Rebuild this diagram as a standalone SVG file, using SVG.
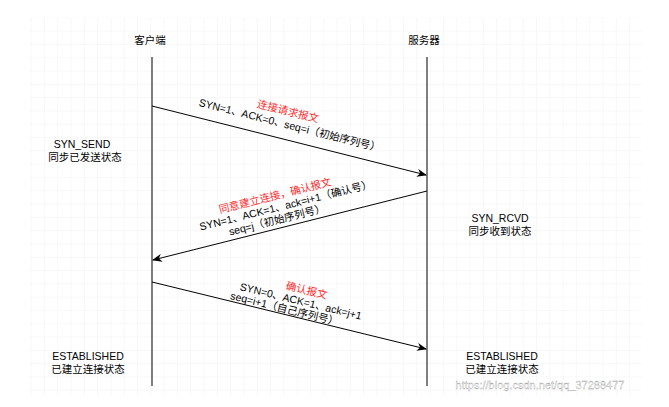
<svg xmlns="http://www.w3.org/2000/svg" width="669" height="407" viewBox="0 0 669 407">
<defs>
<pattern id="g" width="13.3" height="13.3" patternUnits="userSpaceOnUse" x="5" y="5"><path d="M13.3 0V13.3H0" fill="none" stroke="#eeeeee" stroke-width="0.8"/></pattern>
<marker id="a" markerWidth="10" markerHeight="8" refX="9" refY="4" orient="auto" markerUnits="userSpaceOnUse"><path d="M0 0L10 4L0 8L3 4Z" fill="#000"/></marker>
<style>
text{font-family:"Liberation Sans","Noto Sans CJK SC",sans-serif;font-size:10.5px;fill:#000;text-anchor:middle}
.r{fill:#ff2a2a}
.l{stroke:#000;stroke-width:1;fill:none}
</style>
</defs>
<rect width="669" height="407" fill="#fff"/>
<rect x="30" y="18" width="612" height="378" fill="url(#g)"/>
<g id="client"><text x="150" y="44">客户端</text><line class="l" x1="152" y1="57" x2="152" y2="386"/></g>
<g id="server"><text x="424" y="44">服务器</text><line class="l" x1="427" y1="57" x2="427" y2="386"/></g>
<g id="state-client-1"><text x="82" y="148">SYN_SEND</text><text x="85" y="161">同步已发送状态</text></g>
<g id="state-server-1"><text x="500" y="222">SYN_RCVD</text><text x="500" y="235">同步收到状态</text></g>
<g id="state-client-2"><text x="88" y="360">ESTABLISHED</text><text x="88" y="373">已建立连接状态</text></g>
<g id="state-server-2"><text x="502" y="360">ESTABLISHED</text><text x="502" y="373">已建立连接状态</text></g>
<g id="connectors">
<line class="l" x1="152" y1="106" x2="426" y2="175" marker-end="url(#a)"/>
<line class="l" x1="427" y1="191" x2="153" y2="260" marker-end="url(#a)"/>
<line class="l" x1="152" y1="282" x2="426" y2="349" marker-end="url(#a)"/>
<g transform="translate(291,120) rotate(14.2)"><text class="r" x="-5" y="-4">连接请求报文</text><text x="0" y="9">SYN=1、ACK=0、seq=i（初始序列号）</text></g>
<g transform="translate(282,207) rotate(-14.1)"><text class="r" x="-4" y="-9">同意建立连接，确认报文</text><text x="4" y="3">SYN=1、ACK=1、ack=i+1（确认号）</text><text x="-8" y="15">seq=j（初始序列号）</text></g>
<g transform="translate(297,300) rotate(13.8)"><text class="r" x="7" y="-8">确认报文</text><text x="4" y="4">SYN=0、ACK=1、ack=j+1</text><text x="-10" y="15">seq=i+1（自己序列号）</text></g>
</g>
<text x="540" y="389" style="fill:#fff;stroke:#999;stroke-width:0.3;font-size:11px">https://blog.csdn.net/qq_37288477</text>
</svg>
